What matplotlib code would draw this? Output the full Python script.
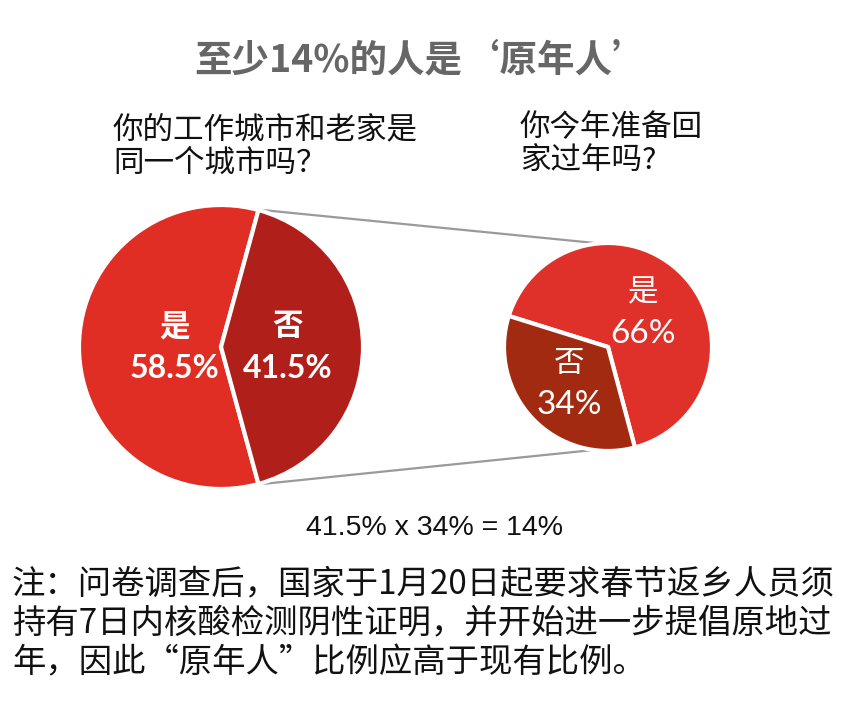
import numpy as np
import matplotlib
matplotlib.use("Agg")
import matplotlib.pyplot as plt

plt.rcParams['font.family'] = ['Noto Sans CJK SC', 'DejaVu Sans']

# data
labels = ['是', '否']
city_same = [58.5, 41.5]      # 工作城市和老家是同一个城市吗
go_home = [66, 34]            # 今年准备回家过年吗
title = '至少14%的人是‘原年人’'
q1 = '你的工作城市和老家是\n同一个城市吗？'
q2 = '你今年准备回\n家过年吗?'
formula = '41.5% x 34% = 14%'
note = ('注：问卷调查后，国家于1月20日起要求春节返乡人员须\n'
        '持有7日内核酸检测阴性证明，并开始进一步提倡原地过\n'
        '年，因此“原年人”比例应高于现有比例。')

W, H = 844, 710
fig = plt.figure(figsize=(W / 100, H / 100), dpi=100)
ax = fig.add_axes([0, 0, 1, 1])
ax.set_xlim(0, W)
ax.set_ylim(0, H)
ax.set_aspect('equal')
ax.axis('off')

c1, r1 = (221, H - 347), 142
c2, r2 = (608, H - 347), 104

w1, _ = ax.pie(city_same, center=c1, radius=r1, startangle=city_same[1] / 2 * 3.6,
               colors=['#e02e25', '#b01f1a'], frame=True,
               wedgeprops=dict(edgecolor='white', linewidth=3))
w2, _ = ax.pie(go_home, center=c2, radius=r2, startangle=285,
               colors=['#e0302a', '#a22a10'], frame=True,
               wedgeprops=dict(edgecolor='white', linewidth=3))
ax.set_xlim(0, W)
ax.set_ylim(0, H)
ax.axis('off')

lab_font = ['Lato', 'Noto Sans CJK SC']


def put_labels(wedges, vals, center, r, dists, weight, sizes):
    for w, v, lab, d in zip(wedges, vals, labels, dists):
        a = np.deg2rad((w.theta1 + w.theta2) / 2)
        x = center[0] + d * r * np.cos(a)
        y = center[1] + d * r * np.sin(a)
        ax.text(x, y + 21, lab, ha='center', va='center', color='white',
                fontsize=sizes[0], fontweight=weight, family=lab_font)
        ax.text(x, y - 21, f'{v:g}%', ha='center', va='center', color='white',
                fontsize=sizes[1], fontweight=weight, family=lab_font)


put_labels(w1, city_same, c1, r1, [0.33, 0.47], 'bold', (22, 23))
put_labels(w2, go_home, c2, r2, [0.47, 0.52], 'normal', (22, 24))

# connector lines from the 否 wedge to the second pie
no = w1[1]
for ang1, ang2 in [(no.theta2, 95), (no.theta1, 262)]:
    a1, a2 = np.deg2rad(ang1), np.deg2rad(ang2)
    ax.plot([c1[0] + r1 * np.cos(a1) + 4, c2[0] + r2 * np.cos(a2)],
            [c1[1] + r1 * np.sin(a1), c2[1] + r2 * np.sin(a2)],
            color='#9a9a9a', lw=1.6, zorder=0)

fig.text(0.5, 1 - 60 / H, title, ha='center', va='center', fontsize=27,
         fontweight='bold', color='#666666')
fig.text(113 / W, 1 - 114 / H, q1, ha='left', va='top', fontsize=22,
         color='#111111', linespacing=1.12, fontweight='medium')
fig.text(520 / W, 1 - 112 / H, q2, ha='left', va='top', fontsize=22,
         color='#111111', linespacing=1.12, fontweight='medium')
fig.text(434 / W, 1 - 528 / H, formula, ha='center', va='center', fontsize=20.5,
         color='#111111', family=['Liberation Sans', 'DejaVu Sans'])
fig.text(12 / W, 1 - 566 / H, note, ha='left', va='top', fontsize=24,
         color='#111111', linespacing=1.18, fontweight='medium')

fig.savefig('out.png', dpi=100, facecolor='white')
